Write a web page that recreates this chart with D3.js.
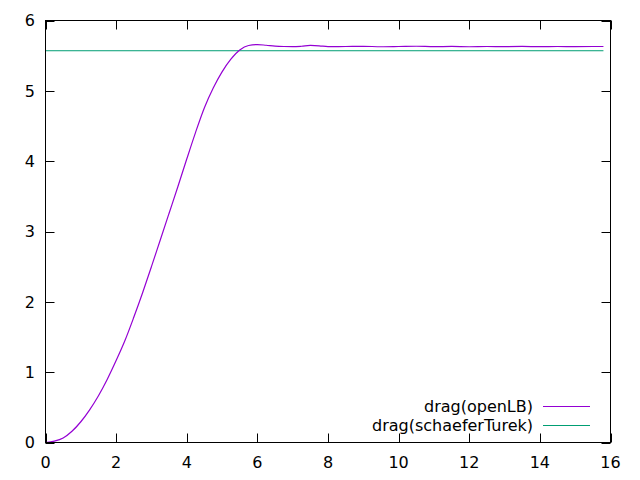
<!DOCTYPE html>
<html lang="en">
<head>
    <meta charset="utf-8">
    <style type="text/css">
        body { margin: 0; background: #fff; }
        svg text { font-family: "DejaVu Sans", sans-serif; font-size: 16px; fill: #000; }
    </style>
</head>
<body>
<svg width="640" height="480"></svg>

<script src="https://d3js.org/d3.v7.min.js"></script>
<script type="text/javascript">

    // time values of the openLB run
    var timeLB = [0, 0.25, 0.5, 0.75, 1.0, 1.25, 1.5, 1.75, 2.0, 2.25, 2.5, 2.75,
        3.0, 3.25, 3.5, 3.75, 4.0, 4.25, 4.5, 4.75, 5.0, 5.25, 5.5, 5.75,
        6.0, 6.25, 6.5, 6.75, 7.0, 7.25, 7.5, 7.75, 8.0, 8.5, 9.0, 9.5,
        10.0, 10.5, 11.0, 11.5, 12.0, 12.5, 13.0, 13.5, 14.0, 14.5, 15.0, 15.5, 15.8];
    var dragLB = [0, 0.02, 0.065, 0.16, 0.295, 0.465, 0.665, 0.90, 1.165, 1.45, 1.78, 2.13,
        2.50, 2.88, 3.26, 3.64, 4.03, 4.41, 4.76, 5.04, 5.27, 5.45, 5.58, 5.645,
        5.658, 5.648, 5.636, 5.630, 5.628, 5.634, 5.645, 5.640, 5.628, 5.630, 5.633, 5.627,
        5.630, 5.634, 5.628, 5.631, 5.627, 5.630, 5.629, 5.631, 5.628, 5.630, 5.629, 5.630, 5.630];

    // reference value (constant)
    var timeST = [0, 15.8];
    var dragST = [5.57, 5.57];

    var xTicks = [0, 2, 4, 6, 8, 10, 12, 14, 16];
    var yTicks = [0, 1, 2, 3, 4, 5, 6];
    var seriesNames = ["drag(openLB)", "drag(schaeferTurek)"];
    var seriesColors = ["#9400d3", "#009e73"];

    var svg = d3.select("svg");
    var plotLeft = 45.5, plotRight = 610.5, plotTop = 20.5, plotBottom = 442.5;

    var x = d3.scaleLinear().domain([0, 16]).range([plotLeft, plotRight]);
    var y = d3.scaleLinear().domain([0, 6]).range([plotBottom, plotTop]);
    var tick = 9;

    var g = svg.append("g");

    // ticks on all four sides, pointing inward
    g.selectAll(".xtb").data(xTicks).enter().append("line")
        .attr("x1", function (d) {return Math.round(x(d)) + 0.5;}).attr("x2", function (d) {return Math.round(x(d)) + 0.5;})
        .attr("y1", plotBottom).attr("y2", plotBottom - tick)
        .attr("stroke", "#000");
    g.selectAll(".xtt").data(xTicks).enter().append("line")
        .attr("x1", function (d) {return Math.round(x(d)) + 0.5;}).attr("x2", function (d) {return Math.round(x(d)) + 0.5;})
        .attr("y1", plotTop).attr("y2", plotTop + tick)
        .attr("stroke", "#000");
    g.selectAll(".ytl").data(yTicks).enter().append("line")
        .attr("x1", plotLeft).attr("x2", plotLeft + tick)
        .attr("y1", function (d) {return Math.round(y(d)) + 0.5;}).attr("y2", function (d) {return Math.round(y(d)) + 0.5;})
        .attr("stroke", "#000");
    g.selectAll(".ytr").data(yTicks).enter().append("line")
        .attr("x1", plotRight).attr("x2", plotRight - tick)
        .attr("y1", function (d) {return Math.round(y(d)) + 0.5;}).attr("y2", function (d) {return Math.round(y(d)) + 0.5;})
        .attr("stroke", "#000");

    g.selectAll(".xl").data(xTicks).enter().append("text")
        .attr("x", function (d) {return x(d);})
        .attr("y", 468)
        .attr("text-anchor", "middle")
        .text(function (d) {return d;});
    g.selectAll(".yl").data(yTicks).enter().append("text")
        .attr("x", 35)
        .attr("y", function (d) {return y(d);})
        .attr("dy", "0.36em")
        .attr("text-anchor", "end")
        .text(function (d) {return d;});

    var line = d3.line()
        .x(function (d) {return x(d[0]);})
        .y(function (d) {return y(d[1]);});

    var lb = timeLB.map(function (t, i) {return [t, dragLB[i]];});
    var st = timeST.map(function (t, i) {return [t, dragST[i]];});

    svg.append("path")
        .attr("d", line.curve(d3.curveLinear)(st))
        .attr("fill", "none")
        .attr("stroke", seriesColors[1])
        .attr("stroke-width", 1);
    svg.append("path")
        .attr("d", line.curve(d3.curveMonotoneX)(lb))
        .attr("fill", "none")
        .attr("stroke", seriesColors[0])
        .attr("stroke-width", 1.2);

    // border
    svg.append("rect")
        .attr("x", plotLeft).attr("y", plotTop)
        .attr("width", plotRight - plotLeft).attr("height", plotBottom - plotTop)
        .attr("fill", "none").attr("stroke", "#000");

    // legend
    var legend = svg.selectAll(".leg").data(seriesNames).enter().append("g")
        .attr("transform", function (d, i) {return "translate(0," + (406.5 + i * 19) + ")";});
    legend.append("text")
        .attr("x", 533)
        .attr("dy", "0.36em")
        .attr("text-anchor", "end")
        .text(function (d) {return d;});
    legend.append("line")
        .attr("x1", 543).attr("x2", 590)
        .attr("stroke", function (d, i) {return seriesColors[i];})
        .attr("stroke-width", 1);

</script>
</body>
</html>
